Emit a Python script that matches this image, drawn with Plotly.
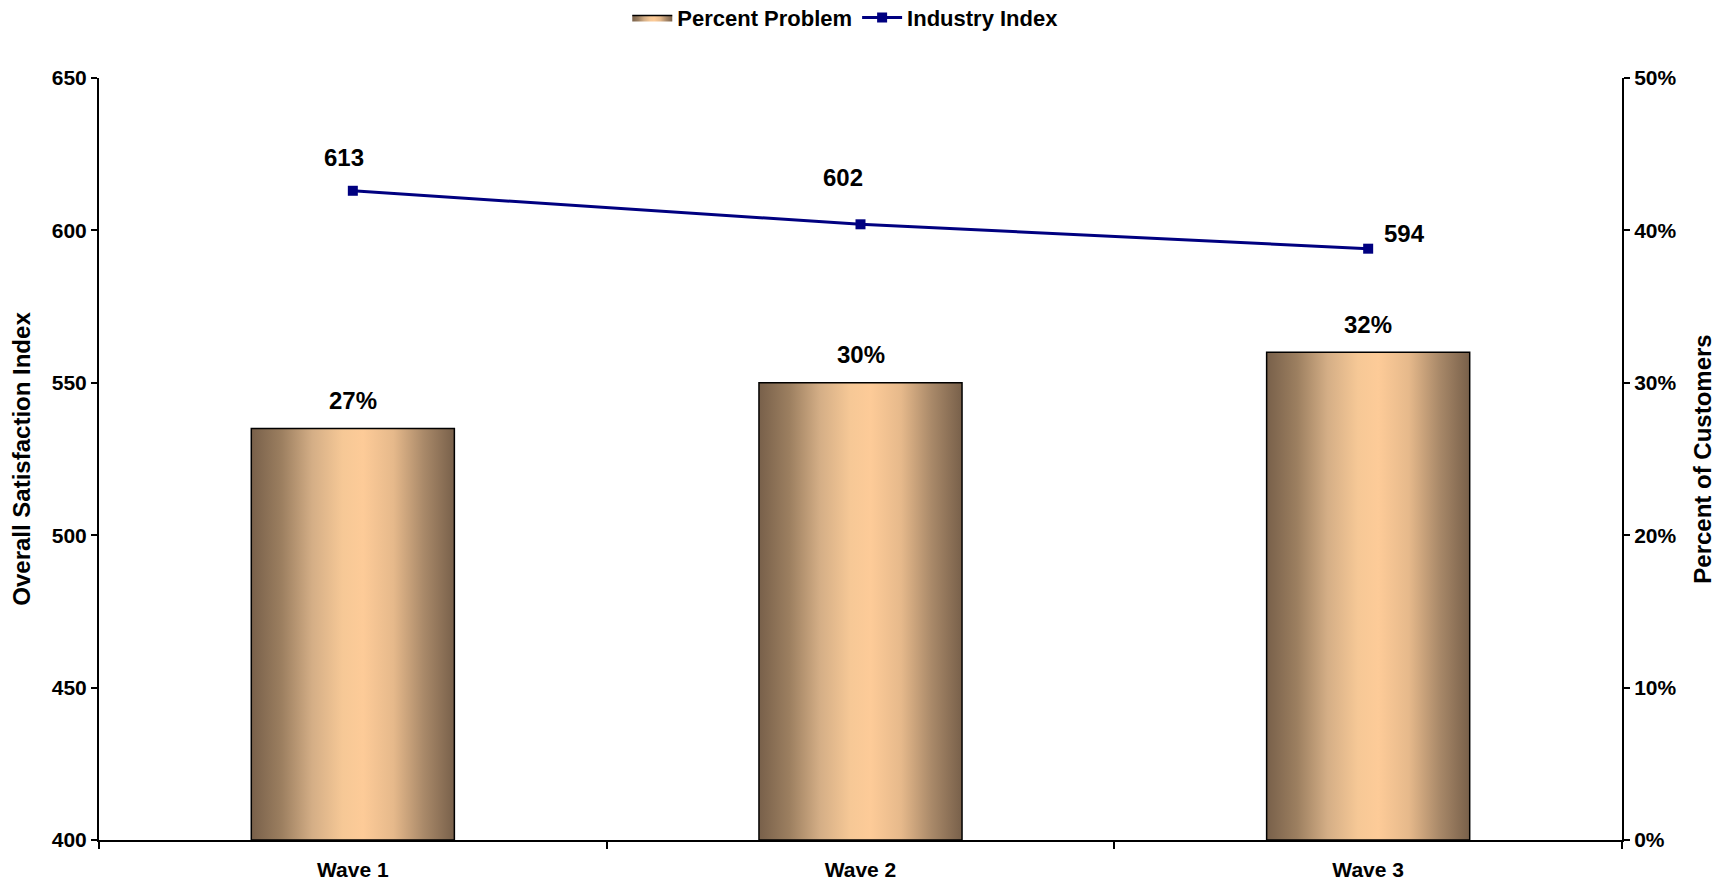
import plotly.graph_objects as go

categories = ["Wave 1", "Wave 2", "Wave 3"]
percent_problem = [0.27, 0.30, 0.32]
industry_index = [613, 602, 594]

FONT = "Arial, Liberation Sans, sans-serif"
BAR_HALF = 0.2
grad = [[0.0, "#78604a"], [0.15, "#9c7f60"], [0.3, "#d4ae86"], [0.45, "#f6c896"],
        [0.55, "#fdcb98"], [0.7, "#e6b98b"], [0.85, "#a98969"], [1.0, "#78604a"]]

fig = go.Figure()
xs = list(range(len(categories)))
for i, (xc, v) in enumerate(zip(xs, percent_problem)):
    fig.add_trace(go.Scatter(
        x=[xc - BAR_HALF, xc + BAR_HALF, xc + BAR_HALF, xc - BAR_HALF, xc - BAR_HALF],
        y=[0, 0, v, v, 0],
        mode="lines", fill="toself",
        fillgradient=dict(type="horizontal", colorscale=grad),
        line=dict(color="black", width=1.5),
        name="Percent Problem", showlegend=(i == 0), legendgroup="pp",
        xaxis="x", yaxis="y", hoverinfo="skip"))

fig.add_trace(go.Scatter(
    x=xs, y=industry_index, mode="lines+markers", name="Industry Index",
    line=dict(color="#000080", width=3),
    marker=dict(symbol="square", size=10, color="#000080"),
    xaxis="x", yaxis="y2"))

LABEL_FONT = dict(family=FONT, size=24, color="black", weight="bold")
annotations = []
for xc, v in zip(xs, percent_problem):
    annotations.append(dict(x=xc, y=v, xref="x", yref="y", text=f"{round(v*100)}%",
                            showarrow=False, yshift=28, font=LABEL_FONT))
line_offsets = [(-9, 33), (-18, 47), (36, 15)]
for xc, v, (dx, dy) in zip(xs, industry_index, line_offsets):
    annotations.append(dict(x=xc, y=v, xref="x", yref="y2", text=str(v),
                            showarrow=False, xshift=dx, yshift=dy, font=LABEL_FONT))

tickfont = dict(family=FONT, size=21, color="black", weight="bold")
titlefont = dict(family=FONT, size=24, color="black", weight="bold")
fig.update_layout(
    width=1731, height=882,
    margin=dict(l=99, r=109, t=78, b=42, autoexpand=False),
    paper_bgcolor="white", plot_bgcolor="white",
    font=dict(family=FONT, color="black"),
    showlegend=True,
    legend=dict(orientation="h", x=0.49, xanchor="center", y=1.079, yanchor="middle",
                font=dict(family=FONT, size=22, color="black", weight="bold"),
                bgcolor="rgba(0,0,0,0)", itemwidth=40),
    xaxis=dict(range=[-0.5, 2.5], tickmode="array", tickvals=xs, ticktext=categories,
               ticks="", showgrid=False, zeroline=False,
               showline=True, linecolor="black", linewidth=2,
               tickfont=tickfont, automargin=False, ticklabelstandoff=10,
               minor=dict(tickmode="array", tickvals=[-0.5, 0.5, 1.5, 2.5],
                          ticks="outside", ticklen=7, tickcolor="black", tickwidth=1.5)),
    yaxis=dict(side="right", range=[0, 0.5], dtick=0.1, tickformat=".0%",
               showgrid=False, zeroline=False, showline=True, linecolor="black", linewidth=2,
               ticks="outside", ticklen=6, tickcolor="black", tickwidth=1.5,
               tickfont=tickfont, automargin=False,
               title=dict(text="Percent of Customers", standoff=19, font=titlefont)),
    yaxis2=dict(side="left", overlaying="y", range=[400, 650], dtick=50,
                showgrid=False, zeroline=False, showline=True, linecolor="black", linewidth=2,
                ticks="outside", ticklen=6, tickcolor="black", tickwidth=1.5,
                tickfont=tickfont, automargin=False,
                title=dict(text="Overall Satisfaction Index", standoff=14, font=titlefont)),
    annotations=annotations,
)

fig.write_html("out.html")
